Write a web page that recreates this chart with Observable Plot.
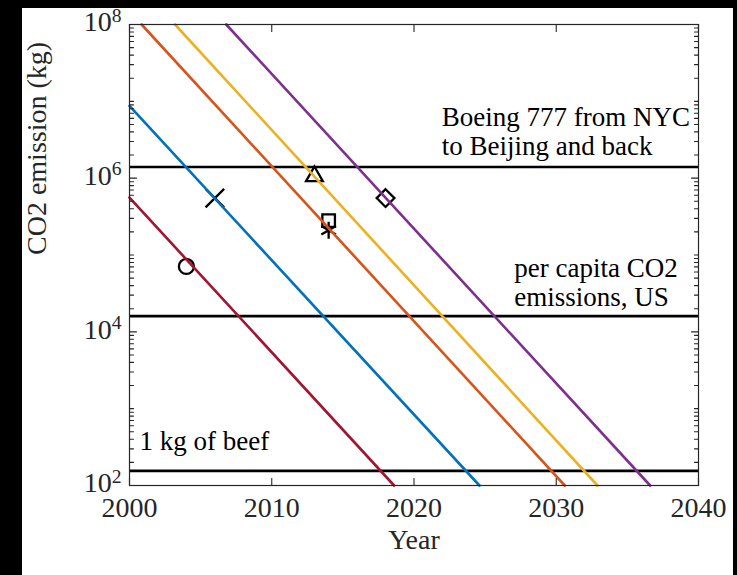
<!DOCTYPE html>
<html>
<head>
<meta charset="utf-8">
<script src="https://cdn.jsdelivr.net/npm/d3@7"></script>
<script src="https://cdn.jsdelivr.net/npm/@observablehq/plot@0.6"></script>
<style>
  html, body { margin: 0; padding: 0; background: #000; }
  #fig { position: relative; width: 737px; height: 575px; overflow: hidden; }
  #paper { position: absolute; left: 22px; top: 8px; width: 711px; height: 567px; background: #fff; }
  #fig svg { position: absolute; left: 0; top: 0; }
</style>
</head>
<body>
<div id="fig"><div id="paper"></div></div>
<script>
// Exponential cost trends: each line falls by a fixed factor per year (straight on a log axis).
const trendNames = ["trend A", "trend B", "trend C", "trend D", "trend E"];
const trendStartYear = [2000, 2000, 2000.85, 2003.2, 2006.8];
const trendStartCO2 = [5.6e5, 8.7e6, 1e8, 1e8, 1e8];
const trendEndYear = [2018.6, 2024.6, 2030.6, 2032.9, 2036.6];
const trendEndCO2 = [100, 100, 100, 100, 100];

// Individual reported points
const markerYear = [2004, 2006, 2013, 2014, 2014, 2018];
const markerCO2 = [7.1e4, 5.5e5, 1.06e6, 2.8e5, 2.1e5, 5.5e5];
const markerSymbol = ["circle", "times", "triangle2", "square2", "asterisk", "diamond2"];

// Reference emission levels
const refLabels = ["Boeing 777 from NYC\nto Beijing and back", "per capita CO2\nemissions, US", "1 kg of beef"];
const refCO2 = [1.4e6, 1.6e4, 155];

// Axes
const xDomain = [2000, 2040];
const yDomain = [1e2, 1e8];
const xTicks = [2000, 2010, 2020, 2030, 2040];
const yTicks = [1e2, 1e4, 1e6, 1e8];
const xLabel = "Year";
const yLabel = "CO2 emission (kg)";

// Styling
const trendColors = ["#A2142F", "#0072BD", "#D95319", "#EDB120", "#7E2F8E"];
const axisColor = "#262626";
const serif = "'Liberation Serif', 'Times New Roman', serif";

const trendRows = trendNames.flatMap((name, i) => [
  {name, year: trendStartYear[i], co2: trendStartCO2[i]},
  {name, year: trendEndYear[i], co2: trendEndCO2[i]}
]);
const markers = markerYear.map((year, i) => ({year, co2: markerCO2[i], symbol: markerSymbol[i]}));
const refs = refLabels.map((label, i) => ({label, co2: refCO2[i]}));

// Minor log ticks between the labelled decades
const minorY = [];
for (let e = Math.log10(yDomain[0]); e < Math.log10(yDomain[1]); e++) {
  for (let k = 1; k <= 9; k++) {
    const v = k * Math.pow(10, e);
    if (!yTicks.includes(v)) minorY.push(v);
  }
}

// Inward-pointing tick segment drawn by Plot.vector
const tickShape = {draw(context, l) { context.moveTo(0, 0); context.lineTo(0, -l); }};
const tickStyle = {stroke: axisColor, strokeWidth: 1.1, shape: tickShape, anchor: "start"};
const markerStyle = {x: "year", y: "co2", symbol: "symbol", stroke: "#000", strokeWidth: 2.3, fill: "none"};

const plot = Plot.plot({
  width: 737,
  height: 575,
  marginLeft: 129,
  marginRight: 39,
  marginTop: 24,
  marginBottom: 90,
  style: {background: "transparent", fontFamily: serif, color: axisColor, overflow: "visible"},
  x: {domain: xDomain},
  y: {type: "log", domain: yDomain},
  color: {domain: trendNames, range: trendColors},
  marks: [
    Plot.ruleY(refs, {y: "co2", stroke: "#000", strokeWidth: 2.6}),
    Plot.dot(markers.filter(d => d.symbol === "circle"), {...markerStyle, r: 7.5}),
    Plot.dot(markers.filter(d => d.symbol === "times"), {...markerStyle, r: 8.5}),
    Plot.dot(markers.filter(d => !["circle", "times"].includes(d.symbol)), {...markerStyle, r: 8}),
    Plot.line(trendRows, {x: "year", y: "co2", z: "name", stroke: "name", strokeWidth: 2.6}),

    // reference annotations
    Plot.text([refs[0]], {x: () => 2021.95, y: "co2", text: "label", textAnchor: "start",
      lineAnchor: "middle", dy: -36, fontSize: 27, lineHeight: 1.07, fill: "#000"}),
    Plot.text([refs[1]], {x: () => 2027.05, y: "co2", text: "label", textAnchor: "start",
      lineAnchor: "middle", dy: -34, fontSize: 27, lineHeight: 1.07, fill: "#000"}),
    Plot.text([refs[2]], {x: () => 2000.7, y: "co2", text: "label", textAnchor: "start",
      lineAnchor: "middle", dy: -30, fontSize: 27, fill: "#000"}),

    // inward ticks on all four sides
    Plot.vector(yTicks, {x: () => xDomain[0], y: d => d, length: 7, rotate: 90, ...tickStyle}),
    Plot.vector(yTicks, {x: () => xDomain[1], y: d => d, length: 7, rotate: -90, ...tickStyle}),
    Plot.vector(minorY, {x: () => xDomain[0], y: d => d, length: 4, rotate: 90, ...tickStyle}),
    Plot.vector(minorY, {x: () => xDomain[1], y: d => d, length: 4, rotate: -90, ...tickStyle}),
    Plot.vector(xTicks, {x: d => d, y: () => yDomain[0], length: 7, rotate: 0, ...tickStyle}),
    Plot.vector(xTicks, {x: d => d, y: () => yDomain[1], length: 7, rotate: 180, ...tickStyle}),

    Plot.frame({stroke: axisColor, strokeWidth: 1.2}),

    Plot.axisX({ticks: xTicks, tickSize: 0, tickPadding: 12, fontSize: 28, tickFormat: d => String(d), label: null}),
    Plot.axisY({ticks: yTicks, tickSize: 0, tickPadding: 8, fontSize: 28, dy: -2,
      tickFormat: d => "10^" + Math.round(Math.log10(d)), label: null}),

    Plot.text([xLabel], {text: d => d, frameAnchor: "bottom", dy: 63, fontSize: 28, fill: axisColor}),
    Plot.text([yLabel], {text: d => d, frameAnchor: "left", dx: -92, rotate: -90, fontSize: 28, fill: axisColor})
  ]
});

// Render the y tick exponents as superscripts
plot.querySelectorAll('g[aria-label="y-axis tick label"] text').forEach(t => {
  const [base, exp] = t.textContent.split("^");
  if (exp === undefined) return;
  t.textContent = base;
  const sup = document.createElementNS("http://www.w3.org/2000/svg", "tspan");
  sup.setAttribute("dy", "-0.5em");
  sup.setAttribute("font-size", "0.7em");
  sup.textContent = exp;
  t.appendChild(sup);
});

document.getElementById("fig").appendChild(plot);
</script>
</body>
</html>
